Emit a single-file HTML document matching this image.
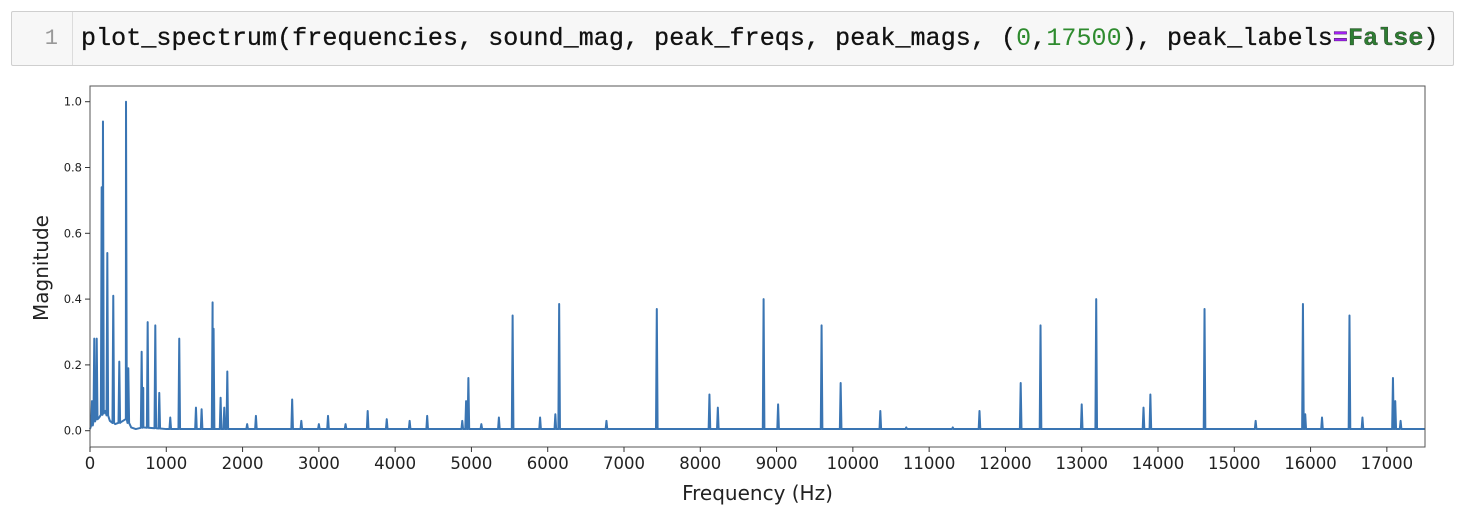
<!DOCTYPE html>
<html><head><meta charset="utf-8"><style>
body{margin:0;width:1464px;height:520px;background:#fff;overflow:hidden;position:relative;font-family:"DejaVu Sans",sans-serif}
#cell{position:absolute;left:11px;top:11px;width:1441px;height:53px;background:#f7f7f7;border:1px solid #cfcfcf;border-radius:2px}
#gutter{position:absolute;left:0;top:0;width:61px;height:53px;border-right:1px solid #dcdcdc;color:#999;font:22px "Liberation Mono",monospace;line-height:53px;text-align:right;box-sizing:border-box;padding-right:14px}
#code{position:absolute;left:69px;top:0;font:25px "Liberation Mono",monospace;line-height:53px;color:#111;white-space:pre;letter-spacing:0.08px;-webkit-text-stroke:0.3px #111}
.n{color:#2e8b2e;-webkit-text-stroke:0}.k{color:#2e7d32;font-weight:bold}.o{color:#a020f0;font-weight:bold}
</style></head><body>
<div id="cell">
<div id="gutter">1</div>
<div id="code">plot_spectrum(frequencies, sound_mag, peak_freqs, peak_mags, (<span class="n">0</span>,<span class="n">17500</span>), peak_labels<span class="o">=</span><span class="k">False</span>)</div>
</div>
<svg id="chart" width="1464" height="520" style="position:absolute;left:0;top:0"></svg>
<script>
const peakFreqs=[26,56,88,153,170,227,305,384,472,502,677,698,756,856,908,1052,1170,1389,1463,1607,1620,1712,1760,1800,2060,2175,2650,2770,3000,3120,3350,3640,3890,4190,4420,4880,4930,4960,5130,5360,5540,5900,6100,6150,6770,7430,8120,8230,8830,9020,9590,9840,10360,10700,11310,11660,12200,12460,13000,13190,13810,13900,14610,15280,15900,15930,16150,16510,16680,17080,17110,17180];
const peakMags=[0.09,0.28,0.28,0.74,0.94,0.54,0.41,0.21,1.0,0.19,0.24,0.13,0.33,0.32,0.115,0.04,0.28,0.07,0.065,0.39,0.31,0.10,0.07,0.18,0.02,0.045,0.095,0.03,0.02,0.045,0.02,0.06,0.035,0.03,0.045,0.03,0.09,0.16,0.02,0.04,0.35,0.04,0.05,0.385,0.03,0.37,0.11,0.07,0.40,0.08,0.32,0.145,0.06,0.01,0.01,0.06,0.145,0.32,0.08,0.40,0.07,0.11,0.37,0.03,0.385,0.05,0.04,0.35,0.04,0.16,0.09,0.03];
const floorFreqs=[0,60,120,200,260,330,400,470,540,600,700,1000,17500];
const floorMags=[0.005,0.03,0.04,0.06,0.03,0.02,0.025,0.035,0.01,0.005,0.01,0.005,0.005];
const xTicks=[0,1000,2000,3000,4000,5000,6000,7000,8000,9000,10000,11000,12000,13000,14000,15000,16000,17000];
const yTicks=[0.0,0.2,0.4,0.6,0.8,1.0];
const xMax=17500;
const L=90,R=1425,T=86,B=447,Y0=430.7,Y1=101.7;
const sx=f=>L+(R-L)*f/xMax, sy=v=>Y0-(Y0-Y1)*v;
function floorAt(f){for(let i=1;i<floorFreqs.length;i++){if(f<=floorFreqs[i]){const a=floorFreqs[i-1],b=floorFreqs[i];const t=(f-a)/(b-a);return floorMags[i-1]+(floorMags[i]-floorMags[i-1])*t;}}return floorMags[floorMags.length-1];}
const svg=document.getElementById('chart');const NS='http://www.w3.org/2000/svg';
function mk(t,a){const e=document.createElementNS(NS,t);for(const k in a)e.setAttribute(k,a[k]);svg.appendChild(e);return e;}
const pts=[];
floorFreqs.forEach(f=>pts.push([sx(f),sy(floorAt(f))]));
peakFreqs.forEach((f,i)=>{const x=sx(f),b=sy(floorAt(f));pts.push([x-0.8,b]);pts.push([x,sy(peakMags[i])]);pts.push([x+0.8,b]);});
pts.sort((a,b)=>a[0]-b[0]);
const d='M'+pts.map(p=>p[0].toFixed(2)+','+p[1].toFixed(2)).join(' L');
const line=mk('path',{d:d,fill:'none',stroke:'#3a75b3','stroke-width':2,'stroke-linejoin':'round'});


const frame=mk('rect',{x:L,y:T,width:R-L,height:B-T,fill:'none',stroke:'#555','stroke-width':1});


xTicks.forEach(v=>{const x=sx(v);mk('line',{x1:x,x2:x,y1:B,y2:B+5,stroke:'#333'});
const t=mk('text',{x:x,y:B+22,'text-anchor':'middle','font-size':16.5,fill:'#222'});t.textContent=v;

});
yTicks.forEach(v=>{const y=sy(v);mk('line',{x1:L-5,x2:L,y1:y,y2:y,stroke:'#333'});
const t=mk('text',{x:L-8,y:y+4,'text-anchor':'end','font-size':11.5,fill:'#222'});t.textContent=v.toFixed(1);

});
const xt=mk('text',{x:(L+R)/2,y:500,'text-anchor':'middle','font-size':20,fill:'#222'});xt.textContent='Frequency (Hz)';


const yt=mk('text',{x:48,y:268,'text-anchor':'middle','font-size':20,fill:'#222',transform:'rotate(-90 48 268)'});yt.textContent='Magnitude';


</script>
</body></html>
